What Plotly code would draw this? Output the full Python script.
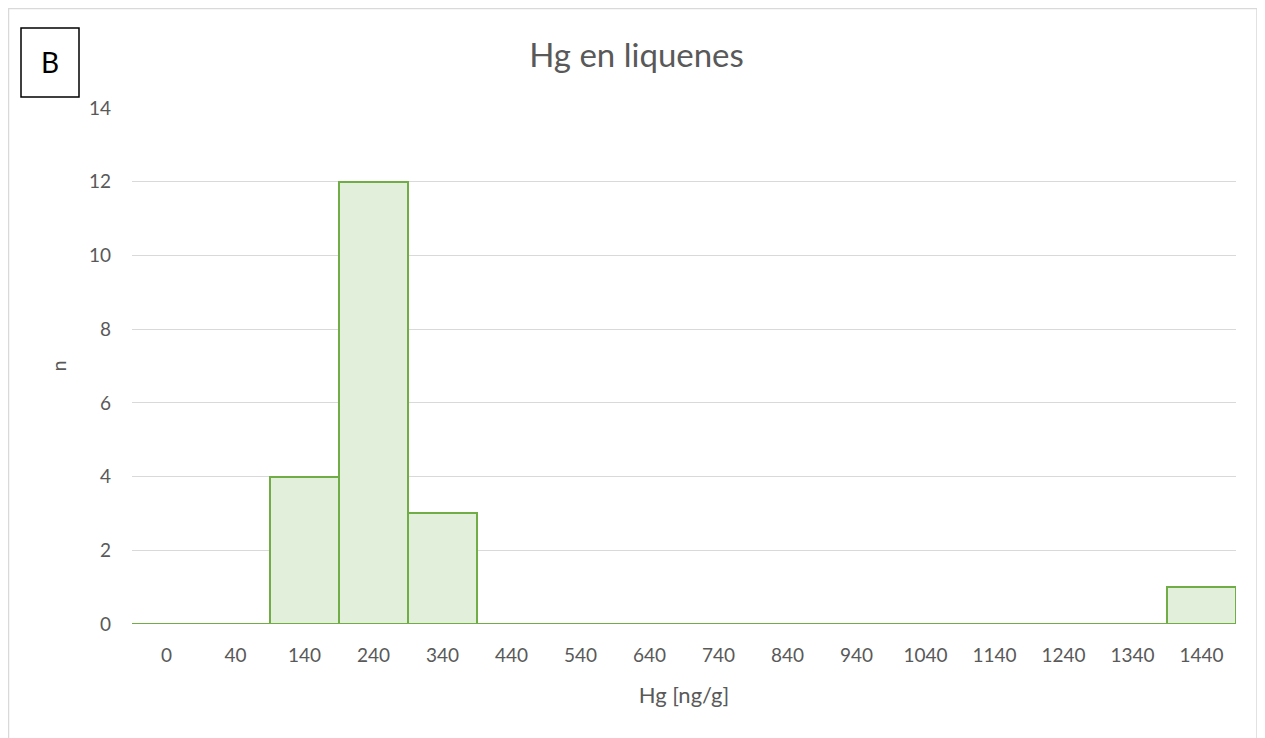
import plotly.graph_objects as go

# histogram bins (Hg, ng/g) and counts
BINS = ["0", "40", "140", "240", "340", "440", "540", "640", "740", "840",
        "940", "1040", "1140", "1240", "1340", "1440"]
COUNTS = [0, 0, 4, 12, 3, 0, 0, 0, 0, 0, 0, 0, 0, 0, 0, 1]
Y_TICKS = [0, 2, 4, 6, 8, 10, 12, 14]

TEXT_GRAY = "#595959"
GRID_GRAY = "#d9d9d9"
FONT = "Lato, Open Sans, sans-serif"

# plot area in figure pixels (page has an 8px body margin)
L, R, T, B = 124, 1228, 100, 616
W, H = 1257, 730
PW, PH = R - L, B - T


def px_x(x):
    return (x - L) / PW


def px_y(y):
    return (B - y) / PH


fig = go.Figure()
fig.add_trace(go.Bar(
    x=BINS,
    y=COUNTS,
    marker_color="#e2efda",
    marker_line_color="#70ad47",
    marker_line_width=2,
    width=1,
    hoverinfo="x+y",
))

fig.update_layout(
    width=W,
    height=H,
    margin=dict(l=L, r=W - R, t=T, b=H - B),
    plot_bgcolor="white",
    paper_bgcolor="white",
    font=dict(family=FONT, color=TEXT_GRAY, size=19),
    title=dict(
        text="Hg en liquenes",
        x=0.5,
        xanchor="center",
        y=1 - 47 / H,
        yanchor="middle",
        font=dict(size=33, color=TEXT_GRAY),
    ),
    bargap=0,
    showlegend=False,
    xaxis=dict(
        type="category",
        showgrid=False,
        showline=False,
        ticks="",
        ticklabelstandoff=18,
        tickfont=dict(size=19),
        title=dict(text="Hg [ng/g]", font=dict(size=22), standoff=22),
    ),
    yaxis=dict(
        range=[0, 14],
        tickvals=Y_TICKS,
        showgrid=True,
        gridcolor=GRID_GRAY,
        gridwidth=1,
        zeroline=False,
        showline=False,
        ticks="",
        ticklabelstandoff=20,
        tickfont=dict(size=19),
        title=dict(text="n", font=dict(size=20), standoff=16),
    ),
)

# outer frame
fig.add_shape(
    type="rect", xref="paper", yref="paper",
    x0=px_x(0.5), x1=px_x(1249),
    y0=px_y(H + 20), y1=px_y(0.5),
    line=dict(color=GRID_GRAY, width=1.5),
    layer="below",
)

# panel label box "B"
fig.add_shape(
    type="rect", xref="paper", yref="paper",
    x0=px_x(13), x1=px_x(71),
    y0=px_y(89), y1=px_y(20),
    line=dict(color="black", width=1.5),
)
fig.add_annotation(
    text="B", xref="paper", yref="paper",
    x=px_x(42), y=px_y(54),
    xanchor="center", yanchor="middle",
    showarrow=False,
    font=dict(size=28, color="black", family=FONT),
)

fig.write_html("out.html")
